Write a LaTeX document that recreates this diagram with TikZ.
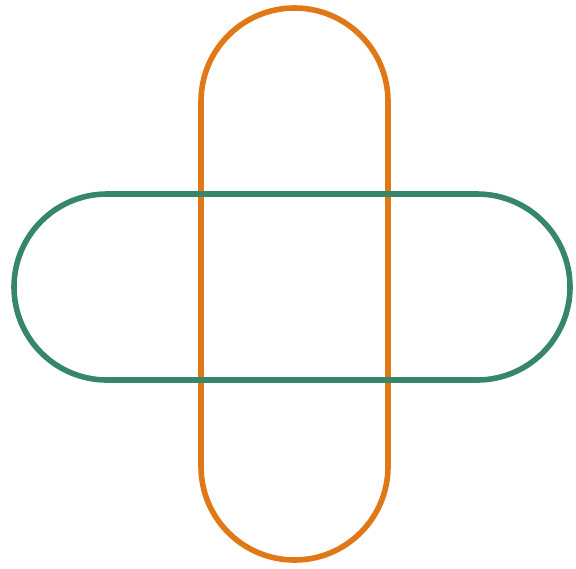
\documentclass[tikz,border=0pt]{standalone}
\usepackage{xcolor}
\definecolor{carrot}{HTML}{E07818}
\definecolor{pine}{HTML}{368769}
\usepackage{tikz}
\usetikzlibrary{calc}

\begin{document}
\begin{tikzpicture}[x=0.025cm, y=0.025cm,
    pill/.style={line width=0.14cm, line join=round}]
  \useasboundingbox (0,0) rectangle (576,568);

  % Vertical capsule (drawn first, sits below)
  \draw[pill, color=carrot]
    (201,101.5) -- (201,466.5) arc[start angle=180, end angle=0, radius=93.5]
    -- (388,101.5) arc[start angle=0, end angle=-180, radius=93.5] -- cycle;

  % Horizontal capsule on top
  \draw[pill, color=pine]
    (107,374) -- (477,374) arc[start angle=90, end angle=-90, radius=93]
    -- (107,188) arc[start angle=270, end angle=90, radius=93] -- cycle;

\end{tikzpicture}
\end{document}
